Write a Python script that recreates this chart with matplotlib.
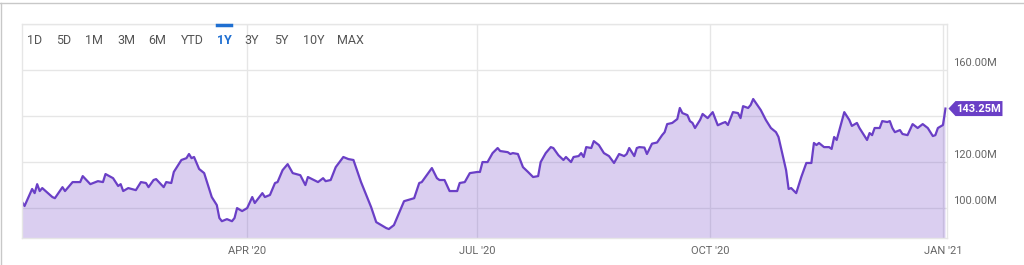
import numpy as np
import pandas as pd
import matplotlib
matplotlib.use('Agg')
import matplotlib.pyplot as plt
from matplotlib.patches import Polygon
from matplotlib.transforms import blended_transform_factory, IdentityTransform

plt.rcParams['font.family'] = ['Roboto', 'DejaVu Sans']

# days since 2020-01-03 and value in millions
start = '2020-01-03'
days = [0, 1, 4, 5, 6, 7, 8, 12, 13, 16, 17, 20, 23, 24, 27, 30, 32, 33, 36, 38,
        39, 40, 42, 45, 47, 49, 50, 52, 53, 56, 57, 59, 60, 63, 65, 66, 67, 68, 70, 72,
        75, 77, 78, 79, 81, 83, 84, 85, 87, 89, 91, 92, 95, 96, 98, 100, 101, 103, 105, 107,
        110, 112, 113, 117, 119, 120, 122, 124, 127, 129, 131, 134, 138, 140, 142, 144, 145, 147, 149, 151,
        155, 157, 158, 162, 164, 165, 167, 169, 172, 173, 175, 177, 180, 181, 182, 184, 186, 188, 189, 192,
        193, 194, 196, 198, 200, 202, 204, 205, 207, 209, 210, 212, 214, 215, 217, 218, 220, 221, 222, 223,
        225, 226, 228, 230, 232, 234, 236, 238, 239, 240, 242, 243, 244, 246, 247, 249, 251, 253, 254, 255,
        257, 259, 260, 261, 263, 264, 265, 266, 268, 269, 271, 273, 275, 277, 278, 279, 281, 283, 284, 285,
        287, 288, 289, 292, 294, 296, 298, 299, 300, 302, 303, 304, 306, 308, 310, 312, 313, 314, 315, 317,
        319, 320, 321, 322, 325, 327, 328, 330, 331, 334, 335, 336, 337, 339, 340, 342, 343, 344, 345, 347,
        348, 350, 352, 354, 356, 358, 360, 361, 362, 364, 365]
values = [102.7, 100.9, 108.3, 106.5, 110.4, 107.4, 108.7, 104.8, 104.3, 109.1, 107.4, 111.3, 111.3, 113.9, 110.4, 111.7, 111.3, 114.8, 113.0, 109.6,
          110.4, 107.4, 108.7, 107.8, 111.3, 110.9, 109.1, 112.2, 112.6, 109.1, 111.3, 110.9, 115.7, 120.9, 121.7, 123.5, 121.7, 122.2, 117.0, 115.2,
          104.8, 101.3, 95.7, 94.3, 95.2, 94.3, 95.7, 100.0, 98.7, 100.0, 104.8, 102.2, 106.5, 104.8, 105.7, 110.9, 111.3, 116.5, 119.1, 115.2,
          114.3, 110.0, 113.5, 111.3, 113.0, 111.7, 112.2, 117.8, 122.2, 121.3, 120.9, 111.3, 100.4, 93.9, 92.6, 91.3, 90.9, 92.6, 97.8, 103.0,
          104.3, 110.9, 111.3, 117.4, 113.0, 112.2, 112.2, 107.4, 107.4, 110.9, 111.3, 115.2, 115.7, 115.7, 120.0, 120.0, 123.9, 126.1, 124.8, 124.3,
          123.5, 123.9, 123.5, 117.8, 115.7, 113.5, 113.9, 120.0, 123.9, 126.5, 126.1, 123.0, 120.9, 122.2, 120.0, 122.2, 122.6, 123.9, 122.2, 126.5,
          126.1, 129.1, 127.4, 123.9, 122.6, 119.6, 123.5, 122.6, 123.5, 126.1, 122.6, 126.1, 126.5, 126.3, 123.5, 128.0, 128.5, 131.7, 133.0, 136.5,
          137.0, 138.7, 143.5, 141.3, 140.4, 137.8, 137.0, 134.8, 138.3, 140.9, 139.1, 141.7, 136.0, 137.0, 137.4, 136.1, 141.7, 141.3, 139.1, 144.3,
          143.5, 144.8, 147.4, 142.6, 138.3, 134.8, 133.0, 130.9, 126.1, 116.5, 108.3, 108.7, 106.5, 113.5, 119.6, 119.6, 128.3, 127.4, 128.3, 126.5,
          126.5, 125.7, 130.9, 129.6, 141.7, 138.3, 135.7, 137.0, 134.8, 129.6, 132.6, 131.7, 134.8, 134.8, 137.8, 137.4, 137.8, 134.8, 133.0, 133.9,
          132.2, 131.7, 136.5, 134.8, 136.5, 134.8, 131.3, 131.7, 134.8, 136.1, 143.25]

y_grid = [100, 120, 140, 160, 180]
x_ticks = ['2020-04-01', '2020-07-01', '2020-10-01', '2021-01-01']
x_labels = ["APR '20", "JUL '20", "OCT '20", "JAN '21"]
ranges = ['1D', '5D', '1M', '3M', '6M', 'YTD', '1Y', '3Y', '5Y', '10Y', 'MAX']
range_x = [35, 64, 94, 126, 157, 192, 224, 252, 281, 314, 350]
active = '1Y'

line_col = '#6a3fc6'
grid_col = '#e6e6e6'
text_col = '#666666'

dates = pd.Timestamp(start) + pd.to_timedelta(days, unit='D')

W, H = 1024, 265
fig = plt.figure(figsize=(W / 100, H / 100), dpi=100)
ax = fig.add_axes([22 / W, 1 - 238 / H, 925 / W, 214 / H])

ax.set_ylim(87, 180)
ax.set_xlim(pd.Timestamp(start), pd.Timestamp(start) + pd.Timedelta(days=365.6))

for g in y_grid:
    ax.axhline(g, color=grid_col, lw=1, zorder=0)
for t in x_ticks:
    ax.axvline(pd.Timestamp(t), color=grid_col, lw=1, zorder=0)

ax.fill_between(dates, values, 0, color='#7a52cc', alpha=0.28, lw=0, zorder=1)
ax.plot(dates, values, color=line_col, lw=1.6, zorder=2)

ax.set_yticks([])
ax.set_xticks([pd.Timestamp(t) for t in x_ticks])
ax.set_xticklabels(x_labels, color=text_col, fontsize=8)
ax.tick_params(axis='x', length=0, pad=6)
for s in ax.spines.values():
    s.set_color(grid_col)
    s.set_linewidth(1)

last_val = values[-1]
trans = blended_transform_factory(ax.transAxes, ax.transData)
for g in y_grid[:-1]:
    if abs(g - last_val) < 8:
        continue
    ax.text(1.006, g + 1.0, f'{g:.2f}M', transform=trans, ha='left', va='bottom',
            color=text_col, fontsize=8)

# price tag
fig.canvas.draw()
px, py = ax.transData.transform((matplotlib.dates.date2num(dates[-1]), last_val))
tip = px + 3
left = tip + 7
right = left + 47
hh = 7.5
tag = Polygon([[tip, py], [left, py + hh], [right, py + hh], [right, py - hh], [left, py - hh]],
              closed=True, transform=IdentityTransform(), facecolor=line_col, edgecolor='none',
              zorder=5, clip_on=False)
fig.patches.append(tag)
fig.text((left + right) / 2 / W, py / H, f'{last_val:.2f}M', ha='center', va='center',
         color='white', fontsize=8, fontweight='bold', zorder=6)

# range buttons
for lab, x in zip(ranges, range_x):
    is_on = lab == active
    fig.text(x / W, 1 - 40 / H, lab, ha='center', va='center', fontsize=9,
             color='#1f6fd1' if is_on else '#555555', fontweight='bold' if is_on else 'normal')
    if is_on:
        fig.add_artist(plt.Line2D([(x - 7) / W, (x + 7) / W], [1 - 24.5 / H, 1 - 24.5 / H],
                                  color='#1f6fd1', lw=2.5))

# card border
fig.add_artist(plt.Line2D([0, 1], [1 - 3 / H, 1 - 3 / H], color='#c8c8c8', lw=1))
fig.add_artist(plt.Line2D([1 / W, 1 / W], [0, 1 - 3 / H], color='#c8c8c8', lw=1))

fig.savefig('out.png', dpi=100)
